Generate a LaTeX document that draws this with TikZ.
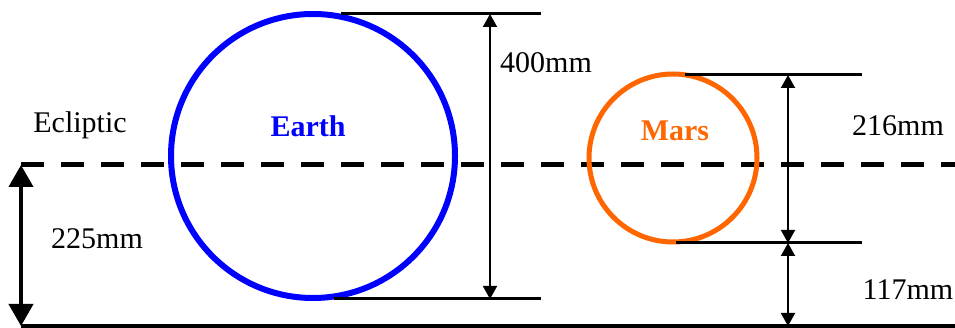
\documentclass[tikz,border=0pt]{standalone}
\usepackage{fontspec}
\setmainfont{Liberation Serif}
\usetikzlibrary{arrows.meta}
\definecolor{marsorange}{RGB}{255,102,0}
\tikzset{
  lbl/.style={anchor=base, inner sep=0pt, font=\fontsize{30}{36}\selectfont},
  blbl/.style={lbl, font=\fontsize{30}{36}\selectfont\bfseries},
  planet/.style={circle, draw, inner sep=0pt},
  refline/.style={line width=3pt},
  dimarrow/.style={line width=1.8pt, {Triangle[length=13pt,width=14pt]}-{Triangle[length=13pt,width=14pt]}},
  bigarrow/.style={line width=4pt, {Triangle[length=22pt,width=24pt]}-{Triangle[length=22pt,width=24pt]}},
  ecliptic/.style={line width=5pt, dash pattern=on 23pt off 17pt},
}
\begin{document}
\begin{tikzpicture}[x=1pt,y=-1pt]
\useasboundingbox (0,0) rectangle (955,328);
% ecliptic and base line
\coordinate (eclL) at (21,165);
\coordinate (eclR) at (955,165);
\coordinate (baseL) at (21,326);
\coordinate (baseR) at (955,326);
\draw[ecliptic] (eclL) -- (eclR);
\draw[line width=4pt] (baseL) -- (baseR);
\draw[bigarrow] (eclL) -- (baseL);
% planets
\node[planet, draw=blue, line width=6pt, minimum size=284pt] (earth) at (313,156) {};
\node[planet, draw=marsorange, line width=5pt, minimum size=168pt] (mars) at (673,158) {};
% earth dimension
\coordinate (eTopL) at (341,14);
\coordinate (eTopR) at (541,14);
\coordinate (eBotL) at (334,299);
\coordinate (eBotR) at (541,299);
\draw[refline] (eTopL) -- (eTopR);
\draw[refline] (eBotL) -- (eBotR);
\coordinate (eA1) at (490,14);
\coordinate (eA2) at (490,299);
\draw[dimarrow] (eA1) -- (eA2);
% mars dimension
\coordinate (mTopL) at (685,75);
\coordinate (mTopR) at (862,75);
\coordinate (mBotL) at (676,243);
\coordinate (mBotR) at (862,243);
\draw[refline] (mTopL) -- (mTopR);
\draw[refline] (mBotL) -- (mBotR);
\coordinate (mA1) at (788,75);
\coordinate (mA2) at (788,243);
\coordinate (mA3) at (788,326);
\draw[dimarrow] (mA1) -- (mA2);
\draw[dimarrow] (mA2) -- (mA3);
% labels
\node[lbl] (lecl) at (80,133) {Ecliptic};
\node[blbl, text=blue] (learth) at (308,137) {Earth};
\node[blbl, text=marsorange] (lmars) at (675,141) {Mars};
\node[lbl] (l400) at (546,73) {400mm};
\node[lbl] (l216) at (898,136) {216mm};
\node[lbl] (l117) at (908,300) {117mm};
\node[lbl] (l225) at (97,249) {225mm};
\end{tikzpicture}
\end{document}
